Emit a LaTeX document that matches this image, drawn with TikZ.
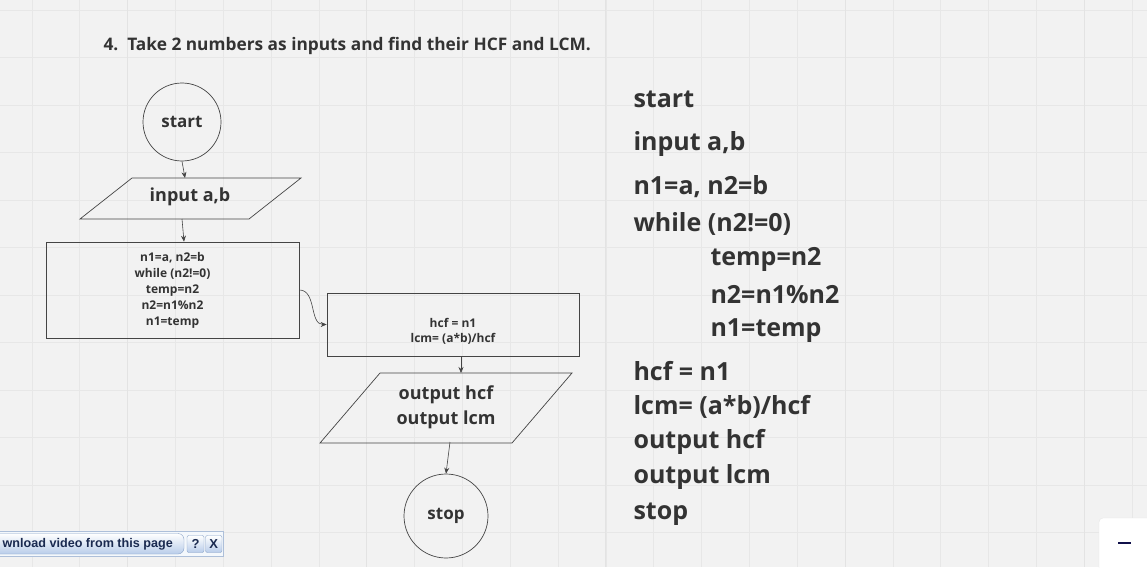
\documentclass[tikz,border=0pt]{standalone}
\usepackage{fontspec}
\setmainfont{Open Sans}
\newfontfamily\barfont{Liberation Sans}
\usepackage{xcolor}
\usetikzlibrary{arrows.meta, positioning, shapes.geometric}

\definecolor{paper}{HTML}{F2F2F2}
\definecolor{gridln}{HTML}{E7E7E7}
\definecolor{gridmaj}{HTML}{E3E3E3}
\definecolor{ink}{HTML}{333333}
\definecolor{edge}{HTML}{444444}
\definecolor{barblue}{HTML}{B9CDEA}
\definecolor{barline}{HTML}{8AA3C8}
\definecolor{bartext}{HTML}{1A2A50}
\definecolor{dashnavy}{HTML}{10104A}

\begin{document}
\begin{tikzpicture}[x=1pt, y=-1pt,
    every node/.style={text=ink, font=\bfseries},
    term/.style={circle, draw=edge, line width=0.7pt, inner sep=0pt},
    io/.style={draw=edge, line width=0.7pt},
    proc/.style={rectangle, draw=edge, line width=0.7pt, inner sep=0pt},
    flow/.style={draw=edge, line width=0.6pt, -{Stealth[length=6pt, width=5pt]}},
    code/.style={anchor=west, font=\bfseries\fontsize{25}{30}\selectfont}]
  \useasboundingbox (0,0) rectangle (1147,567);
  \fill[paper] (0,0) rectangle (1147,567);

  % grid
  \foreach \gx in {0,...,23}
    \draw[gridln, line width=0.6pt] (31.9+47.83*\gx,0) -- (31.9+47.83*\gx,567);
  \foreach \gy in {0,...,11}
    \draw[gridln, line width=0.6pt] (0,10+47.5*\gy) -- (1147,10+47.5*\gy);
  \foreach \gx in {127.5,366.6,605.8,845,1084.2}
    \draw[gridmaj, line width=0.7pt] (\gx,0) -- (\gx,567);

  % title
  \node[anchor=west, font=\bfseries\fontsize{17.3}{20}\selectfont] (title) at (100,46)
    {4.\ \ Take 2 numbers as inputs and find their HCF and LCM.};

  % flowchart
  \node[term, minimum size=78, font=\bfseries\fontsize{17}{20}\selectfont] (start) at (182,122) {start};
  \draw[io] (80,219) -- (132,178) -- (301,178) -- (249,219) -- cycle;
  \coordinate (input-in) at (185,178);
  \coordinate (input-out) at (182,219);
  \node[font=\bfseries\fontsize{18}{21}\selectfont] (input) at (190,197) {input a,b};
  \node[proc, minimum width=253, minimum height=96, align=center,
        font=\bfseries\fontsize{12}{16}\selectfont] (loop) at (172.5,290)
    {n1=a, n2=b\\while (n2!=0)\\temp=n2\\n2=n1\%n2\\n1=temp};
  \node[proc, minimum width=252, minimum height=63] (calc) at (453,324.5) {};
  \node[align=center, font=\bfseries\fontsize{12}{15.5}\selectfont] (calctxt) at (453,331.5)
    {hcf = n1\\lcm= (a*b)/hcf};
  \draw[io] (320,443) -- (380,373) -- (572,373) -- (512,443) -- cycle;
  \coordinate (output-in) at (461,373);
  \coordinate (output-out) at (450,442);
  \node[align=center, font=\bfseries\fontsize{18}{25}\selectfont] (output) at (446,407.5)
    {output hcf\\output lcm};
  \node[term, minimum size=84, font=\bfseries\fontsize{17}{20}\selectfont] (stop) at (446,516) {stop};

  \draw[flow] (start.south) -- (input-in);
  \draw[flow] (input-out) -- ([xshift=11.5]loop.north);
  \draw[flow] (loop.east) to[out=0, in=180] (calc.west);
  \draw[flow] ([xshift=8]calc.south) -- (output-in);
  \draw[flow] (output-out) -- (stop.north);

  % pseudocode
  \node[code] (c1) at (630,99) {start};
  \node[code] (c2) at (630,144) {input a,b};
  \node[code] (c3) at (630,187) {n1=a, n2=b};
  \node[code] (c4) at (630,224) {while (n2!=0)};
  \node[code] (c5) at (707,259) {temp=n2};
  \node[code] (c6) at (707,295) {n2=n1\%n2};
  \node[code] (c7) at (707,331) {n1=temp};
  \node[code] (c8) at (630,371) {hcf = n1};
  \node[code] (c9) at (630,407) {lcm= (a*b)/hcf};
  \node[code] (c10) at (630,442) {output hcf};
  \node[code] (c11) at (630,477) {output lcm};
  \node[code] (c12) at (630,514) {stop};

  % browser bar
  \draw[fill=white!85!barblue, draw=barline!70] (-5,531) rectangle (223,556);
  \draw[top color=white, bottom color=barblue, draw=barline, rounded corners=6pt]
    (-30,533.5) rectangle (184,554);
  \node[anchor=east, inner sep=1pt, text=bartext, font=\barfont\bfseries\fontsize{12.6}{15}\selectfont] (dl) at (174,544)
    {wnload video from this page};
  \draw[top color=white, bottom color=barblue, draw=barline, rounded corners=2pt]
    (187,535.5) rectangle (204,552.5);
  \draw[top color=white, bottom color=barblue, draw=barline, rounded corners=2pt]
    (205.5,535.5) rectangle (222,552.5);
  \node[text=bartext, font=\barfont\bfseries\fontsize{13}{15}\selectfont] (help) at (195.5,544) {?};
  \node[text=bartext, font=\barfont\bfseries\fontsize{13}{15}\selectfont] (close) at (213.8,544) {X};

  % zoom panel
  \draw[fill=white, draw=gridln, rounded corners=4pt] (1099,518) rectangle (1170,590);
  \draw[dashnavy, line width=1.6pt] (1118,543) -- (1131,543);
\end{tikzpicture}
\end{document}
